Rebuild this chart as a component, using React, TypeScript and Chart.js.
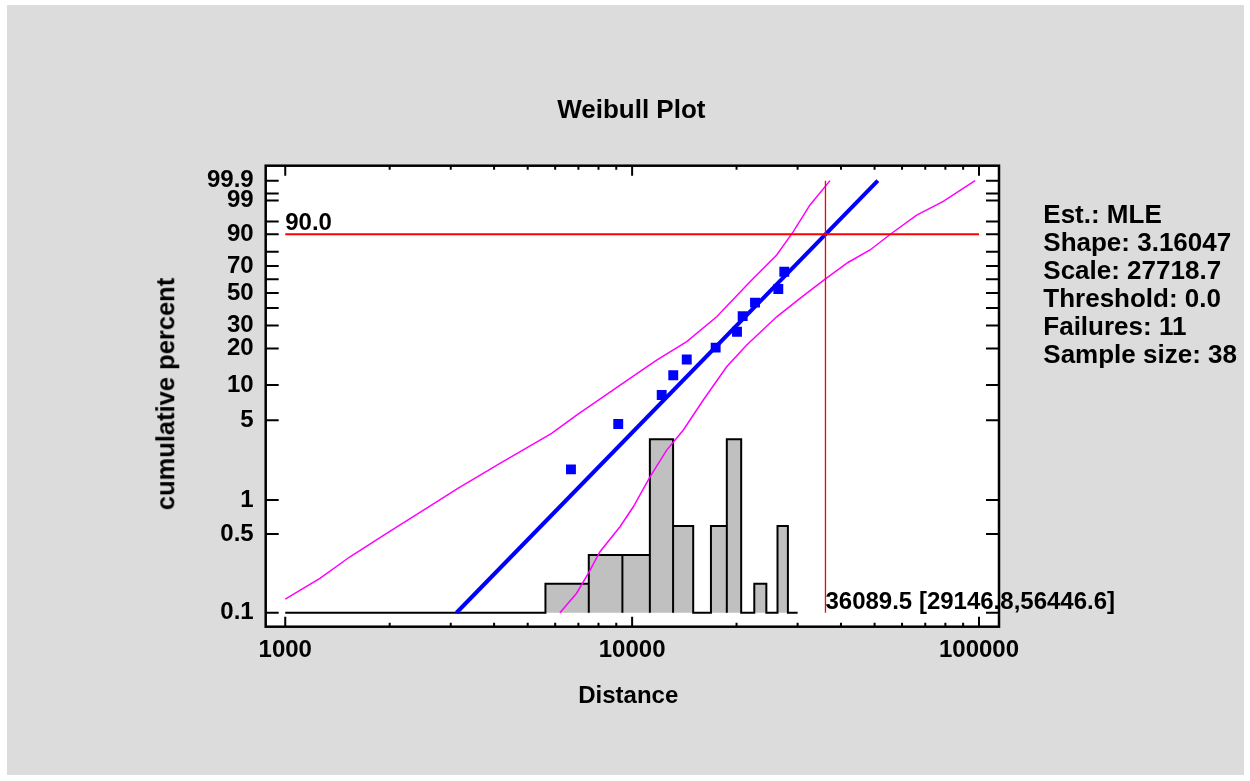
import { useEffect, useRef } from "react";
import { Chart, registerables } from "chart.js";
Chart.register(...registerables);

const FONT = '"Liberation Sans", Arial, Helvetica, sans-serif';

// observed failures: distance and plotting position (cumulative %)
const failureDistance = [6663, 9120, 12170, 13140, 14370, 17410, 20060, 20830, 22610, 26390, 27460];
const failurePercent = [1.86, 4.64, 8.24, 12.1, 16.3, 20.3, 26.9, 35.1, 43.4, 52.9, 65.7];

// fitted Weibull line (end points)
const fitDistance = [3116, 51100];
const fitPercent = [0.1, 99.9];

// confidence limits
const lowerBandDistance = [1000, 1259, 1537, 1960, 2339, 3154, 4159, 5861, 6918, 9858, 11770, 14370, 17530, 21870, 26110, 29150, 32570, 37190];
const lowerBandPercent = [0.132, 0.202, 0.314, 0.507, 0.711, 1.27, 2.1, 3.85, 5.55, 11.4, 16.1, 22.6, 34.7, 58.2, 77.9, 91.2, 98.5, 99.9];
const upperBandDistance = [6194, 6918, 7475, 8078, 9226, 10080, 11260, 12580, 14050, 16040, 18730, 21400, 26110, 30480, 36080, 41910, 48510, 56020, 66130, 78890, 97390];
const upperBandPercent = [0.1, 0.149, 0.224, 0.348, 0.58, 0.871, 1.6, 2.75, 4.12, 7.47, 14.2, 21.3, 34.7, 46.3, 60.3, 72.6, 81.2, 90.5, 96.7, 98.9, 99.9];

// histogram of the data
const binEdges = [0, 1875, 3750, 5625, 7500, 9375, 11250, 13125, 15000, 16875, 18750, 20625, 22500, 24375, 26250, 28125, 30000];
const binCounts = [0, 0, 0, 1, 2, 2, 6, 3, 0, 3, 6, 0, 1, 0, 3, 0];

// reference (percentile) lines
const refPercent = 90;
const refDistance = 36089.5;
const refLimits = [29146.8, 56446.6];

// axis ticks
const xMajorTicks = [1000, 10000, 100000];
const xMinorTicks = [2000, 3000, 4000, 5000, 6000, 7000, 8000, 9000, 20000, 30000, 40000, 50000, 60000, 70000, 80000, 90000];
const yTickPercents = [0.1, 0.5, 1, 5, 10, 20, 30, 40, 50, 60, 70, 80, 90, 95, 99, 99.5, 99.9];
const yTickLabels = ["0.1", "0.5", "1", "5", "10", "20", "30", "", "50", "", "70", "", "90", "", "99", "", "99.9"];

const statLines = ["Est.: MLE", "Shape: 3.16047", "Scale: 27718.7", "Threshold: 0.0", "Failures: 11", "Sample size: 38"];

// Weibull probability paper transform
const wb = (p: number) => Math.log(-Math.log(1 - p / 100));

const toPoints = (xs: number[], ps: number[]) => xs.map((x, i) => ({ x, y: wb(ps[i]) }));

const histPoints = binCounts.flatMap((c, i) => {
  const l = Math.max(binEdges[i], xMajorTicks[0]);
  const r = binEdges[i + 1];
  return [
    { x: l, y: 0 },
    { x: l, y: c },
    { x: r, y: c },
    { x: r, y: 0 },
  ];
});

const framePlugin = {
  id: "frame",
  beforeDraw(chart: any) {
    const { ctx, chartArea: a } = chart;
    ctx.save();
    ctx.fillStyle = "#ffffff";
    ctx.fillRect(a.left, a.top, a.right - a.left, a.bottom - a.top);
    ctx.restore();
  },
  afterDraw(chart: any) {
    const { ctx, chartArea: a, scales } = chart;
    const xs = scales.x;
    const ys = scales.y;
    ctx.save();
    ctx.fillStyle = "#000";
    ctx.font = `bold 24px ${FONT}`;
    ctx.textAlign = "left";
    ctx.textBaseline = "alphabetic";
    ctx.fillText(
      refPercent.toFixed(1),
      xs.getPixelForValue(xMajorTicks[0]),
      ys.getPixelForValue(wb(refPercent)) - 4
    );
    ctx.fillText(
      `${refDistance} [${refLimits[0]},${refLimits[1]}]`,
      xs.getPixelForValue(refDistance),
      ys.getPixelForValue(wb(yTickPercents[0])) - 4
    );

    ctx.strokeStyle = "#000";
    ctx.lineWidth = 2.5;
    ctx.strokeRect(a.left, a.top, a.right - a.left, a.bottom - a.top);
    ctx.lineWidth = 2;
    ctx.beginPath();
    xs.ticks.forEach((t: any) => {
      const px = xs.getPixelForValue(t.value);
      const len = xMajorTicks.includes(t.value) ? 10 : 4;
      ctx.moveTo(px, a.bottom);
      ctx.lineTo(px, a.bottom - len);
      ctx.moveTo(px, a.top);
      ctx.lineTo(px, a.top + len);
    });
    ys.ticks.forEach((t: any) => {
      const py = ys.getPixelForValue(t.value);
      ctx.moveTo(a.left, py);
      ctx.lineTo(a.left + 13, py);
      ctx.moveTo(a.right, py);
      ctx.lineTo(a.right - 13, py);
    });
    ctx.stroke();
    ctx.restore();
  },
};

const tickFont = { family: FONT, size: 24, weight: "bold" as const };

const App = () => {
  const chartRef = useRef<HTMLCanvasElement | null>(null);

  useEffect(() => {
    document.body.style.margin = "0";
    if (!chartRef.current) return;
    const ctx = chartRef.current.getContext("2d");
    if (!ctx) return;

    const chart = new Chart(ctx, {
      type: "line",
      data: {
        datasets: [
          {
            data: [
              { x: xMajorTicks[0], y: wb(refPercent) },
              { x: xMajorTicks[xMajorTicks.length - 1], y: wb(refPercent) },
            ],
            borderColor: "#ff0000",
            borderWidth: 2,
            pointRadius: 0,
          },
          {
            data: [
              { x: refDistance, y: wb(yTickPercents[0]) },
              { x: refDistance, y: wb(yTickPercents[yTickPercents.length - 1]) },
            ],
            borderColor: "#ff0000",
            borderWidth: 1.3,
            pointRadius: 0,
          },
          {
            data: toPoints(failureDistance, failurePercent),
            showLine: false,
            pointStyle: "rect",
            pointRadius: 7,
            pointBackgroundColor: "#0000ff",
            pointBorderWidth: 0,
          },
          {
            data: toPoints(fitDistance, fitPercent),
            borderColor: "#0000ff",
            borderWidth: 4,
            pointRadius: 0,
          },
          {
            data: toPoints(lowerBandDistance, lowerBandPercent),
            borderColor: "#ff00ff",
            borderWidth: 1.5,
            pointRadius: 0,
          },
          {
            data: toPoints(upperBandDistance, upperBandPercent),
            borderColor: "#ff00ff",
            borderWidth: 1.5,
            pointRadius: 0,
          },
          {
            data: histPoints,
            yAxisID: "yh",
            borderColor: "#000000",
            borderWidth: 2,
            backgroundColor: "#c0c0c0",
            fill: "origin",
            pointRadius: 0,
          },
        ],
      },
      options: {
        animation: false,
        responsive: false,
        events: [],
        layout: { padding: { left: 0, top: 165.7, right: 251, bottom: 0 } },
        plugins: {
          legend: { display: false },
          tooltip: { enabled: false },
        },
        scales: {
          x: {
            type: "logarithmic",
            min: 878.3,
            max: 114200,
            grid: { display: false, drawTicks: false },
            border: { display: false },
            afterBuildTicks: (s: any) => {
              s.ticks = [...xMajorTicks, ...xMinorTicks]
                .sort((a, b) => a - b)
                .map((v) => ({ value: v }));
            },
            afterFit: (s: any) => {
              s.height = 781 - 626.7;
            },
            ticks: {
              autoSkip: false,
              maxRotation: 0,
              padding: 9,
              color: "#000",
              font: tickFont,
              callback: (v: any) => (xMajorTicks.includes(Number(v)) ? String(v) : ""),
            },
          },
          y: {
            type: "linear",
            min: -7.193,
            max: 2.238,
            grid: { display: false, drawTicks: false },
            border: { display: false },
            afterBuildTicks: (s: any) => {
              s.ticks = yTickPercents.map((p) => ({ value: wb(p) }));
            },
            afterFit: (s: any) => {
              s.width = 265.7;
            },
            ticks: {
              autoSkip: false,
              padding: 12,
              color: "#000",
              font: tickFont,
              callback: (_v: any, i: number) => yTickLabels[i],
            },
          },
          yh: {
            type: "linear",
            display: false,
            min: -0.4844,
            max: 15.467,
          },
        },
      },
      plugins: [framePlugin],
    });

    return () => chart.destroy();
  }, []);

  const text = {
    position: "absolute" as const,
    fontFamily: FONT,
    fontWeight: "bold" as const,
    color: "#000",
    whiteSpace: "nowrap" as const,
  };

  return (
    <div style={{ position: "absolute", left: 0, top: 0, width: 1250, height: 781, background: "#ffffff", overflow: "hidden" }}>
      <div style={{ position: "absolute", left: 7, top: 5, width: 1237, height: 770, background: "#dcdcdc" }} />
      <canvas ref={chartRef} width={1250} height={781} style={{ position: "absolute", left: 0, top: 0 }} />
      <div style={{ ...text, left: 631.3, top: 96.3, fontSize: 26, lineHeight: "26px", transform: "translateX(-50%)" }}>
        Weibull Plot
      </div>
      <div style={{ ...text, left: 628.3, top: 683, fontSize: 24, lineHeight: "24px", transform: "translateX(-50%)" }}>
        Distance
      </div>
      <div
        style={{
          ...text,
          left: 166,
          top: 394,
          fontSize: 25.5,
          lineHeight: "25.5px",
          transform: "translate(-50%, -50%) rotate(-90deg)",
        }}
      >
        cumulative percent
      </div>
      <div style={{ ...text, left: 1043.3, top: 200.4, fontSize: 26, lineHeight: "28px" }}>
        {statLines.map((s) => (
          <div key={s}>{s}</div>
        ))}
      </div>
    </div>
  );
};

export default App;
